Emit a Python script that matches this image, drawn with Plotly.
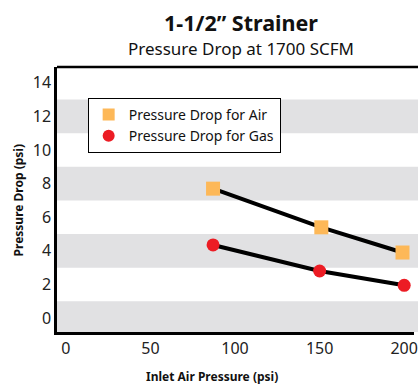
import plotly.graph_objects as go

# Data
air_pressure = [87, 151, 199]
air_drop = [7.7, 5.4, 3.9]
gas_pressure = [87, 150, 200]
gas_drop = [4.35, 2.8, 1.95]
x_ticks = [0, 50, 100, 150, 200]
y_ticks = [0, 2, 4, 6, 8, 10, 12, 14]
band_ranges = [(-1, 1), (3, 5), (7, 9), (11, 13)]

FONT = "Noto Sans"
W, H = 418, 385
ML, MR, MT, MB = 57, 0, 67, 53
pw = W - ML - MR
ph = H - MT - MB

fig = go.Figure()

# connecting lines
fig.add_trace(go.Scatter(x=air_pressure, y=air_drop, mode="lines",
                         line=dict(color="black", width=4), showlegend=False, hoverinfo="skip"))
fig.add_trace(go.Scatter(x=gas_pressure, y=gas_drop, mode="lines",
                         line=dict(color="black", width=4), showlegend=False, hoverinfo="skip"))
# markers
fig.add_trace(go.Scatter(x=air_pressure, y=air_drop, mode="markers", name="Pressure Drop for Air",
                         marker=dict(symbol="square", size=14, color="#fdb858")))
fig.add_trace(go.Scatter(x=gas_pressure, y=gas_drop, mode="markers", name="Pressure Drop for Gas",
                         marker=dict(symbol="circle", size=13, color="#ec1c24")))

shapes = []
for lo, hi in band_ranges:
    shapes.append(dict(type="rect", xref="paper", yref="y", x0=0, x1=1.05, y0=lo, y1=hi,
                       fillcolor="#e1e1e3", line=dict(width=0), layer="below"))
# top border
shapes.append(dict(type="line", xref="paper", yref="paper", x0=0, x1=1.05, y0=1, y1=1,
                   line=dict(color="black", width=2.5)))

def px_x(p):
    return (p - ML) / pw

def px_y(p):
    return (H - MB - p) / ph

annotations = [
    dict(text="<b>1-1/2” Strainer</b>", x=px_x(243), y=px_y(22), xref="paper", yref="paper",
         showarrow=False, font=dict(family=FONT, size=21.5, color="#111111"), xanchor="center", yanchor="middle"),
    dict(text="Pressure Drop at 1700 SCFM", x=px_x(243), y=px_y(48), xref="paper", yref="paper",
         showarrow=False, font=dict(family=FONT, size=17, color="#111111"), xanchor="center", yanchor="middle"),
    dict(text="<b>Inlet Air Pressure (psi)</b>", x=px_x(214), y=px_y(376), xref="paper", yref="paper",
         showarrow=False, font=dict(family=FONT, size=12, color="#111111"), xanchor="center", yanchor="middle"),
    dict(text="<b>Pressure Drop (psi)</b>", x=px_x(18), y=px_y(200), xref="paper", yref="paper",
         showarrow=False, textangle=-90, font=dict(family=FONT, size=12, color="#111111"),
         xanchor="center", yanchor="middle"),
]

fig.update_layout(
    width=W, height=H,
    margin=dict(l=ML, r=MR, t=MT, b=MB),
    paper_bgcolor="white", plot_bgcolor="white",
    shapes=shapes, annotations=annotations,
    showlegend=True,
    legend=dict(x=px_x(88), y=px_y(98), xanchor="left", yanchor="top",
                bgcolor="white", bordercolor="black", borderwidth=1,
                font=dict(family=FONT, size=14, color="#111111"),
                tracegroupgap=0, itemsizing="constant"),
    xaxis=dict(range=[-5.26, 205.8], tickvals=x_ticks, ticktext=[str(v) for v in x_ticks],
               showgrid=False, zeroline=False, showline=True, linecolor="black", linewidth=2.5,
               ticks="", ticklabeloverflow="allow",
               tickfont=dict(family=FONT, size=16, color="#222222")),
    yaxis=dict(range=[-0.83, 14.94], tickvals=y_ticks, ticktext=[str(v) for v in y_ticks],
               showgrid=False, zeroline=False, showline=True, linecolor="black", linewidth=2.5,
               ticks="", ticklen=0,
               tickfont=dict(family=FONT, size=16, color="#222222")),
)

fig.write_html("out.html", config={"displayModeBar": False},
               post_script="document.body.style.margin='0px';document.body.style.overflow='hidden';")
